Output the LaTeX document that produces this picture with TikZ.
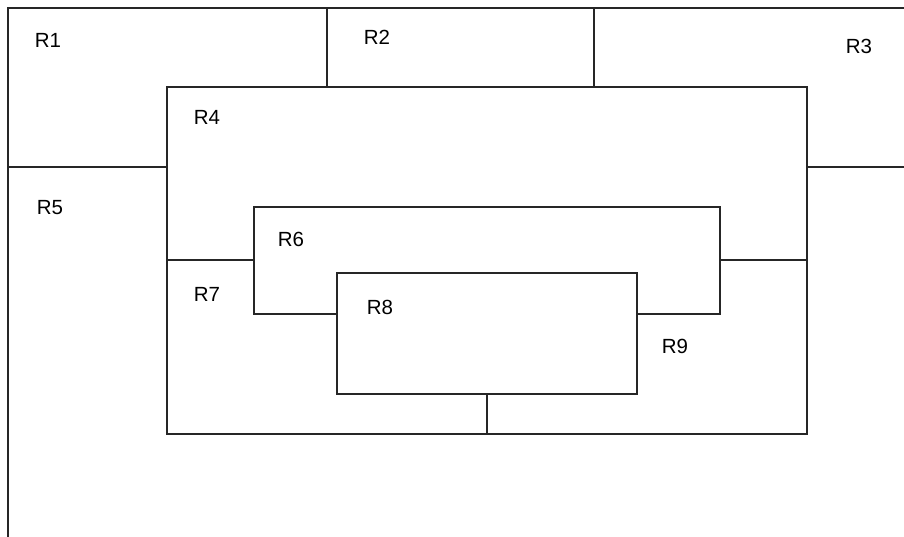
\documentclass[tikz,border=0pt]{standalone}
\usepackage{fontspec}
\setmainfont{Liberation Sans}

\begin{document}
\begin{tikzpicture}[x=1pt,y=-1pt,
    wall/.style={line width=1.2pt,black!85},
    region/.style={font=\fontsize{20.5}{24}\selectfont,inner sep=0pt}]
  % Fix the page to the size of the plan
  \useasboundingbox (0,0) rectangle (904,537);
  % Outer border (top and left only)
  \draw[wall] (904,8) -- (8,8) -- (8,537);
  % Dividers along the top strip
  \draw[wall] (327,8) -- (327,87);
  \draw[wall] (594,8) -- (594,87);
  % Big box R4
  \draw[wall] (167,87) rectangle (807,434);
  % Side walls at height of R5
  \draw[wall] (8,167) -- (167,167);
  \draw[wall] (807,167) -- (904,167);
  % Open box R6
  \draw[wall] (337,314) -- (254,314) -- (254,207) -- (720,207) -- (720,314) -- (637,314);
  % Walls from R6 to R4
  \draw[wall] (167,260) -- (254,260);
  \draw[wall] (720,260) -- (807,260);
  % Inner box R8
  \draw[wall] (337,273) rectangle (637,394);
  \draw[wall] (487,394) -- (487,434);
  % Region labels
  \node[region] (r1) at (48,40) {R1};
  \node[region] (r2) at (377,37) {R2};
  \node[region] (r3) at (859,46) {R3};
  \node[region] (r4) at (207,117) {R4};
  \node[region] (r5) at (50,208) {R5};
  \node[region] (r6) at (291,239) {R6};
  \node[region] (r7) at (207,294) {R7};
  \node[region] (r8) at (380,307) {R8};
  \node[region] (r9) at (675,346) {R9};
\end{tikzpicture}
\end{document}
